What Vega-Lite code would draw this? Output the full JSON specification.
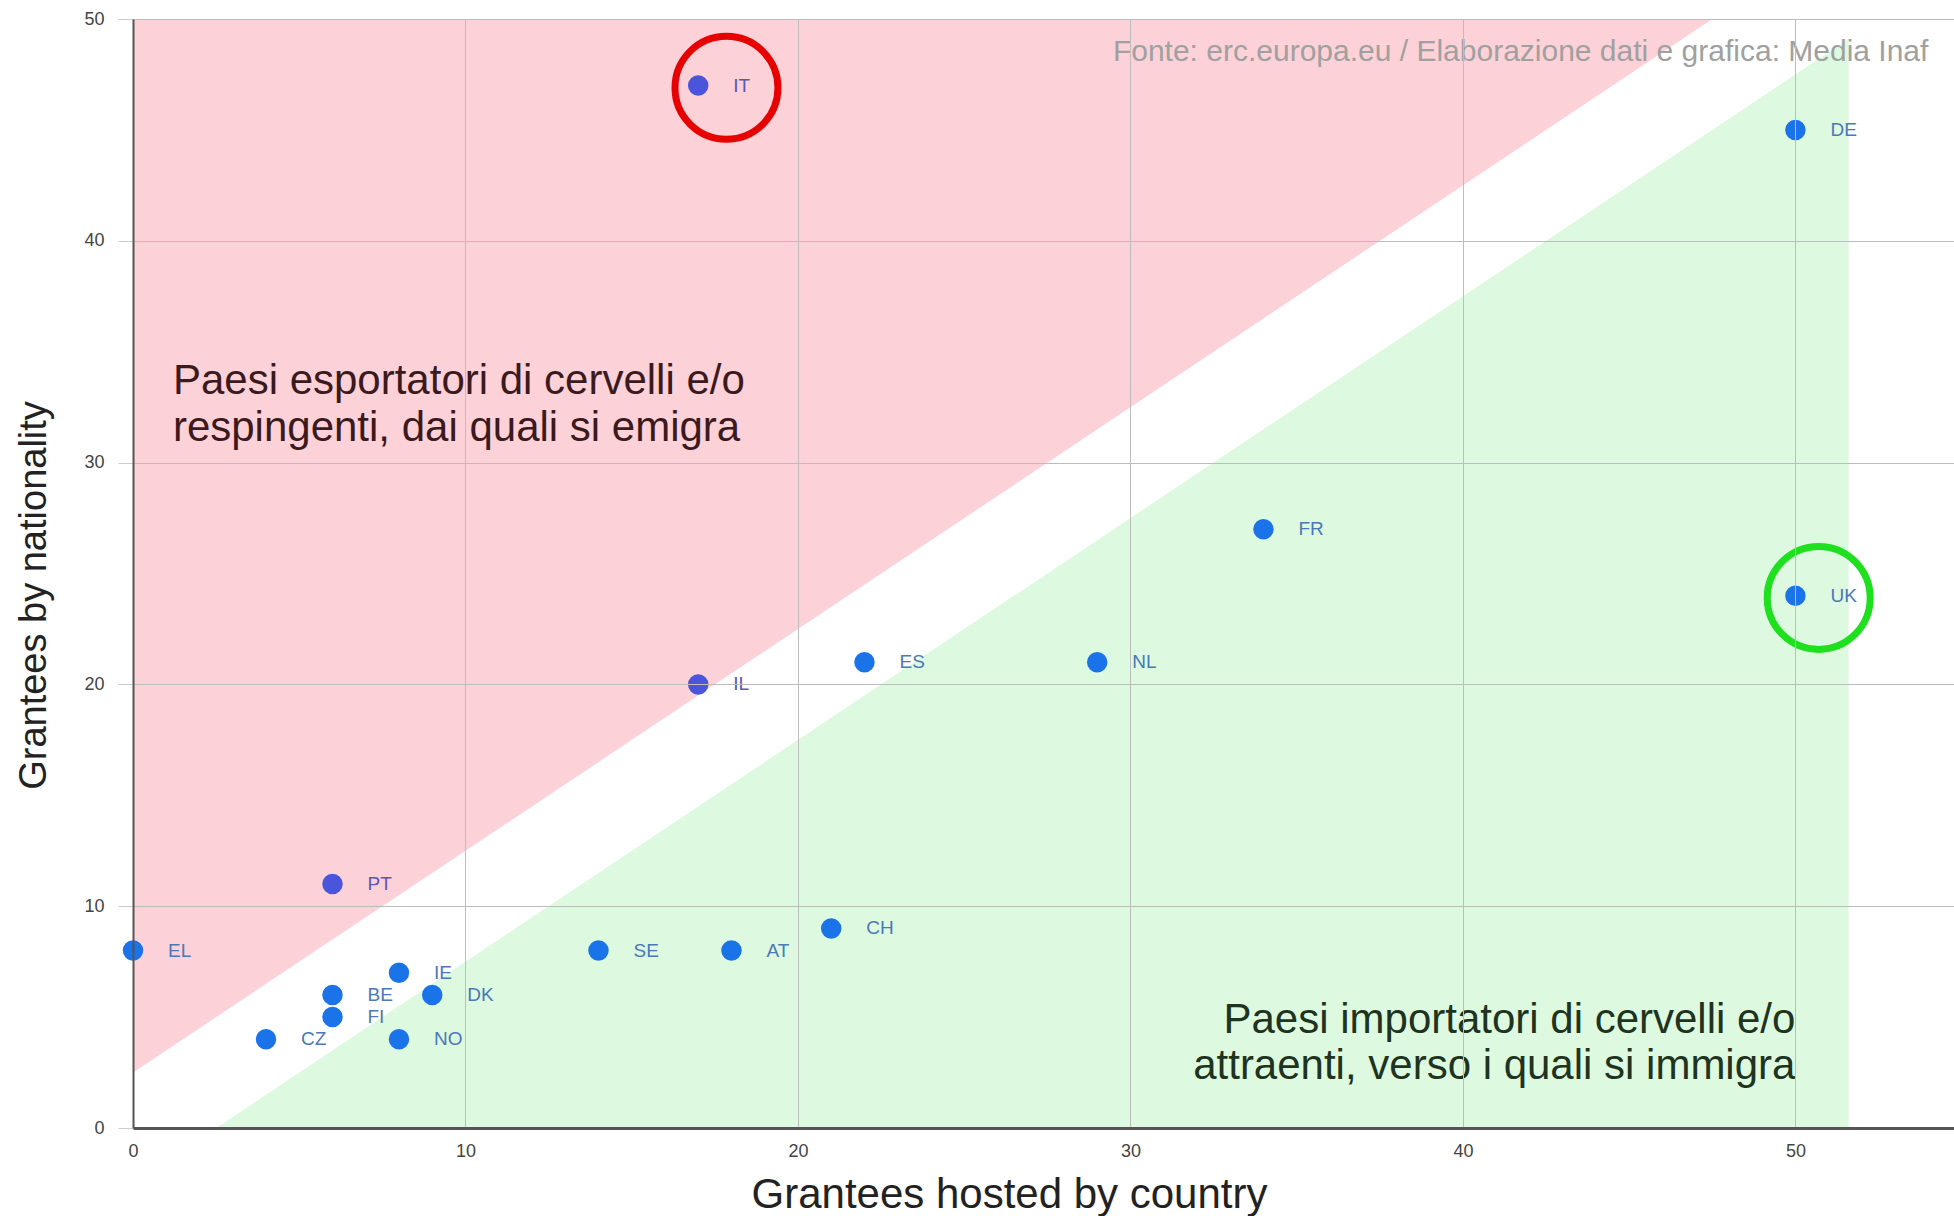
{
  "$schema": "https://vega.github.io/schema/vega-lite/v6.json",
  "width": 1821,
  "height": 1109,
  "autosize": {"type": "none"},
  "padding": {"left": 133, "top": 19, "right": 0, "bottom": 88},
  "background": "white",
  "config": {"view": {"stroke": null}, "font": "Liberation Sans"},
  "datasets": {
    "pink": [
      {"hosted": 0, "nationality": 2.5, "top": 50},
      {"hosted": 47.5, "nationality": 50, "top": 50}
    ],
    "green": [
      {"hosted": 2.5, "nationality": 0, "top": 0},
      {"hosted": 51.6, "nationality": 0, "top": 49.1}
    ],
    "countries": [
      {"country": "IT", "hosted": 17, "nationality": 47, "zone": "esportatore"},
      {"country": "DE", "hosted": 50, "nationality": 45, "zone": "importatore"},
      {"country": "FR", "hosted": 34, "nationality": 27, "zone": "importatore"},
      {"country": "UK", "hosted": 50, "nationality": 24, "zone": "importatore"},
      {"country": "ES", "hosted": 22, "nationality": 21, "zone": "importatore"},
      {"country": "NL", "hosted": 29, "nationality": 21, "zone": "importatore"},
      {"country": "IL", "hosted": 17, "nationality": 20, "zone": "esportatore"},
      {"country": "PT", "hosted": 6, "nationality": 11, "zone": "esportatore"},
      {"country": "CH", "hosted": 21, "nationality": 9, "zone": "importatore"},
      {"country": "EL", "hosted": 0, "nationality": 8, "zone": "importatore"},
      {"country": "SE", "hosted": 14, "nationality": 8, "zone": "importatore"},
      {"country": "AT", "hosted": 18, "nationality": 8, "zone": "importatore"},
      {"country": "IE", "hosted": 8, "nationality": 7, "zone": "importatore"},
      {"country": "BE", "hosted": 6, "nationality": 6, "zone": "importatore"},
      {"country": "DK", "hosted": 9, "nationality": 6, "zone": "importatore"},
      {"country": "FI", "hosted": 6, "nationality": 5, "zone": "importatore"},
      {"country": "CZ", "hosted": 4, "nationality": 4, "zone": "importatore"},
      {"country": "NO", "hosted": 8, "nationality": 4, "zone": "importatore"}
    ],
    "highlights": [
      {"country": "IT", "hosted": 17.85, "nationality": 46.9},
      {"country": "UK", "hosted": 50.7, "nationality": 23.9}
    ],
    "notes": [
      {"note": "export", "hosted": 1.2, "nationality": 33.1, "text": ["Paesi esportatori di cervelli e/o", "respingenti, dai quali si emigra"]},
      {"note": "import", "hosted": 50, "nationality": 4.3, "text": ["Paesi importatori di cervelli e/o", "attraenti, verso i quali si immigra"]}
    ],
    "source": [
      {"hosted": 54, "nationality": 48.1, "text": "Fonte: erc.europa.eu / Elaborazione dati e grafica: Media Inaf"}
    ]
  },
  "encoding": {
    "x": {
      "field": "hosted",
      "type": "quantitative",
      "scale": {"domain": [0, 54.77], "nice": false, "zero": false},
      "axis": {
        "title": "Grantees hosted by country",
        "values": [0, 10, 20, 30, 40, 50],
        "grid": true,
        "gridColor": "#bdbdbd",
        "gridWidth": 1,
        "domainColor": "#555555",
        "domainWidth": 3,
        "ticks": false,
        "labelFlush": false,
        "labelFontSize": 18,
        "labelColor": "#444444",
        "labelPadding": 14,
        "titleFontSize": 42,
        "titleFontWeight": "normal",
        "titleColor": "#222222",
        "titleAlign": "center",
        "titleX": 876,
        "titleY": 79,
        "titleBaseline": "alphabetic",
        "zindex": 1
      }
    },
    "y": {
      "field": "nationality",
      "type": "quantitative",
      "scale": {"domain": [0, 50], "nice": false, "zero": false},
      "axis": {
        "title": "Grantees by nationality",
        "values": [0, 10, 20, 30, 40, 50],
        "grid": true,
        "gridColor": "#bdbdbd",
        "gridWidth": 1,
        "domainColor": "#555555",
        "domainWidth": 2,
        "tickColor": "#cccccc",
        "tickSize": 15,
        "labelFlush": false,
        "labelFontSize": 18,
        "labelColor": "#444444",
        "labelPadding": 14,
        "titleFontSize": 38,
        "titleFontWeight": "normal",
        "titleColor": "#222222",
        "titleAngle": -90,
        "titleAlign": "center",
        "titleBaseline": "middle",
        "titleX": -99,
        "titleY": 576,
        "zindex": 1
      }
    }
  },
  "layer": [
    {
      "data": {"name": "pink"},
      "mark": {"type": "area", "orient": "vertical", "color": "#fdd1d8"},
      "encoding": {"y2": {"field": "top"}}
    },
    {
      "data": {"name": "green"},
      "mark": {"type": "area", "orient": "vertical", "color": "#ddfae0"},
      "encoding": {"y2": {"field": "top"}}
    },
    {
      "data": {"name": "countries"},
      "mark": {"type": "circle", "size": 420, "opacity": 1},
      "encoding": {
        "color": {
          "field": "zone",
          "type": "nominal",
          "scale": {"domain": ["esportatore", "importatore"], "range": ["#4a55dc", "#1a73e8"]},
          "legend": null
        }
      }
    },
    {
      "data": {"name": "countries"},
      "mark": {"type": "text", "align": "left", "baseline": "middle", "dx": 35, "fontSize": 19},
      "encoding": {
        "text": {"field": "country", "type": "nominal"},
        "color": {
          "field": "zone",
          "type": "nominal",
          "scale": {"domain": ["esportatore", "importatore"], "range": ["#5a58b4", "#4a78b8"]},
          "legend": null
        }
      }
    },
    {
      "data": {"name": "highlights"},
      "mark": {"type": "point", "shape": "circle", "filled": false, "size": 10600, "strokeWidth": 7, "opacity": 1},
      "encoding": {
        "color": {
          "field": "country",
          "type": "nominal",
          "scale": {"domain": ["IT", "UK"], "range": ["#e60000", "#1ee01e"]},
          "legend": null
        }
      }
    },
    {
      "data": {"name": "notes"},
      "transform": [{"filter": "datum.note === 'export'"}],
      "mark": {"type": "text", "align": "left", "baseline": "alphabetic", "fontSize": 42, "lineHeight": 47, "color": "#3b1a1e"},
      "encoding": {"text": {"field": "text", "type": "nominal"}}
    },
    {
      "data": {"name": "notes"},
      "transform": [{"filter": "datum.note === 'import'"}],
      "mark": {"type": "text", "align": "right", "baseline": "alphabetic", "fontSize": 42, "lineHeight": 46, "color": "#1e3320"},
      "encoding": {"text": {"field": "text", "type": "nominal"}}
    },
    {
      "data": {"name": "source"},
      "mark": {"type": "text", "align": "right", "baseline": "alphabetic", "fontSize": 30, "color": "#a0a0a0"},
      "encoding": {"text": {"field": "text", "type": "nominal"}}
    }
  ],
  "resolve": {"scale": {"color": "independent"}}
}
